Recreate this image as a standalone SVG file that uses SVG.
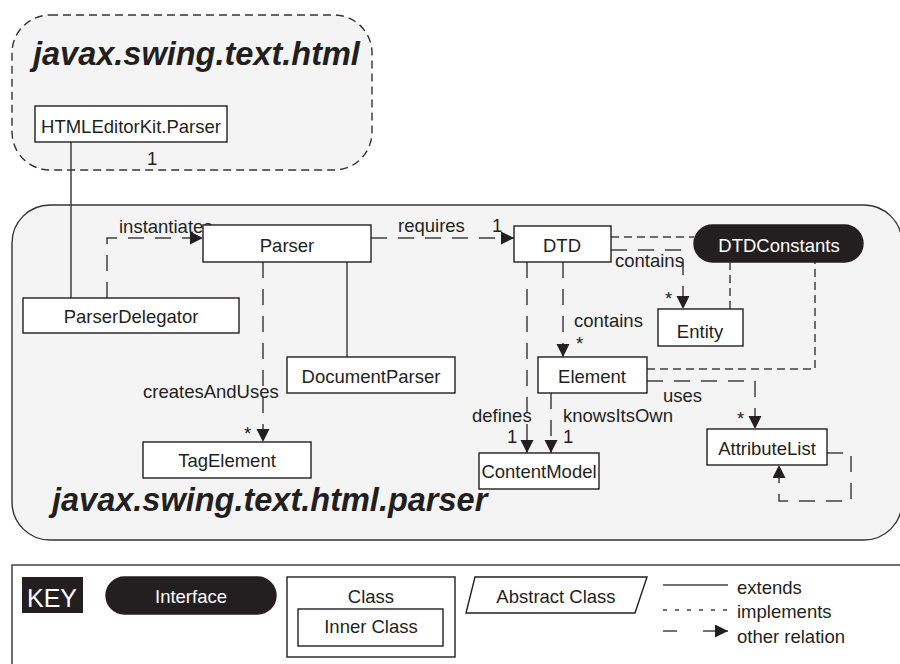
<svg xmlns="http://www.w3.org/2000/svg" width="900" height="664" viewBox="0 0 900 664">
<style>
text{font-family:"Liberation Sans",Arial,sans-serif;fill:#231f20;font-size:18.5px}
.title{font-size:32.5px;font-weight:bold;font-style:italic}
.c{text-anchor:middle}
.w{fill:#ffffff}
.box{fill:#ffffff;stroke:#231f20;stroke-width:1.4}
.iface{fill:#231f20;stroke:#231f20;stroke-width:1.4}
.ext{fill:none;stroke:#404040;stroke-width:1.5}
.impl{fill:none;stroke:#404040;stroke-width:1.5;stroke-dasharray:8 5}
.rela{fill:none;stroke:#404040;stroke-width:1.5;stroke-dasharray:16 11;marker-end:url(#arr)}
</style>
<defs>
<marker id="arr" markerUnits="userSpaceOnUse" markerWidth="14" markerHeight="14" refX="13" refY="6.5" orient="auto">
<path d="M0,0 L13,6.5 L0,13 z" fill="#231f20"/>
</marker>
</defs>
<rect width="900" height="664" fill="#ffffff"/>
<g id="pkg-html">
<rect x="12" y="15" width="360" height="155" rx="38" ry="38" fill="#f4f4f4" stroke="#333" stroke-width="1.4" stroke-dasharray="8 5"/>
<text class="title" x="33" y="65">javax.swing.text.html</text>
</g>
<g id="pkg-parser">
<rect x="12" y="205" width="890" height="335" rx="38" ry="38" fill="#f4f4f4" stroke="#333" stroke-width="1.4"/>
<text class="title" x="52" y="511">javax.swing.text.html.parser</text>
</g>
<g id="connectors">
<path class="ext" d="M71,142 V298"/>
<text x="147" y="165">1</text>
<path class="ext" d="M347,262 V357"/>
<path class="rela" d="M107,298 V238 H203"/>
<text x="119" y="233">instantiates</text>
<path class="rela" d="M371,238 H514"/>
<text x="398" y="232">requires</text>
<text x="492" y="232">1</text>
<path class="rela" d="M263,262 V442"/>
<text x="143" y="398">createsAndUses</text>
<text x="244" y="440">*</text>
<path class="impl" d="M611,237 H694"/>
<path class="rela" d="M611,250 H683 V309"/>
<text x="615" y="267">contains</text>
<text x="665" y="305">*</text>
<path class="impl" d="M730,309 V262"/>
<path class="rela" d="M563,262 V357"/>
<text x="574" y="327">contains</text>
<text x="576" y="350">*</text>
<path class="impl" d="M647,369 H815 V262"/>
<path class="rela" d="M647,381 H755 V429"/>
<text x="663" y="402">uses</text>
<text x="737" y="425">*</text>
<path class="rela" d="M527,262 V453"/>
<text x="472" y="422">defines</text>
<text x="507" y="443">1</text>
<path class="rela" d="M551,393 V453"/>
<text x="563" y="422">knowsItsOwn</text>
<text x="563" y="443">1</text>
<path class="rela" d="M827,453 H851 V501 H779 V465"/>
</g>
<g id="HTMLEditorKit.Parser">
<rect class="box" x="35" y="106" width="192" height="36"/>
<text class="c" x="131" y="133">HTMLEditorKit.Parser</text>
</g>
<g id="ParserDelegator">
<rect class="box" x="23" y="298" width="216" height="35"/>
<text class="c" x="131" y="323">ParserDelegator</text>
</g>
<g id="Parser">
<rect class="box" x="203" y="225" width="168" height="37"/>
<text class="c" x="287" y="252">Parser</text>
</g>
<g id="DocumentParser">
<rect class="box" x="287" y="357" width="168" height="36"/>
<text class="c" x="371" y="383">DocumentParser</text>
</g>
<g id="TagElement">
<rect class="box" x="143" y="442" width="168" height="36"/>
<text class="c" x="227" y="467">TagElement</text>
</g>
<g id="DTD">
<rect class="box" x="514" y="226" width="97" height="36"/>
<text class="c" x="562" y="252">DTD</text>
</g>
<g id="DTDConstants">
<rect class="iface" x="694" y="225" width="169" height="37" rx="18.5" ry="18.5"/>
<text class="c w" x="779" y="252">DTDConstants</text>
</g>
<g id="Entity">
<rect class="box" x="658" y="309" width="85" height="37"/>
<text class="c" x="700" y="338">Entity</text>
</g>
<g id="Element">
<rect class="box" x="538" y="357" width="109" height="36"/>
<text class="c" x="592" y="383">Element</text>
</g>
<g id="ContentModel">
<rect class="box" x="479" y="453" width="120" height="36"/>
<text class="c" x="539" y="478">ContentModel</text>
</g>
<g id="AttributeList">
<rect class="box" x="707" y="429" width="120" height="36"/>
<text class="c" x="767" y="455">AttributeList</text>
</g>
<g id="key">
<rect x="12" y="565" width="895" height="110" fill="#ffffff" stroke="#333" stroke-width="1.4"/>
<rect x="22" y="577" width="61" height="36" fill="#231f20"/>
<text class="w" x="27" y="607" style="font-size:25px">KEY</text>
<rect class="iface" x="106" y="577" width="170" height="37" rx="18.5" ry="18.5"/>
<text class="c w" x="191" y="603">Interface</text>
<rect class="box" x="287" y="577" width="168" height="80"/>
<text class="c" x="371" y="603">Class</text>
<rect class="box" x="298" y="609" width="145" height="37"/>
<text class="c" x="371" y="633">Inner Class</text>
<path class="box" d="M475,577 H647 L635,613 H466 Z"/>
<text class="c" x="556" y="603">Abstract Class</text>
<path class="ext" d="M663,585 H728"/>
<text x="737" y="594">extends</text>
<path d="M663,610 H728" fill="none" stroke="#404040" stroke-width="1.3" stroke-dasharray="4 8"/>
<text x="737" y="618">implements</text>
<path d="M663,631 H677" fill="none" stroke="#404040" stroke-width="1.5"/>
<path d="M703,631 H728" fill="none" stroke="#404040" stroke-width="1.5" marker-end="url(#arr)"/>
<text x="737" y="643">other relation</text>
</g>
</svg>
